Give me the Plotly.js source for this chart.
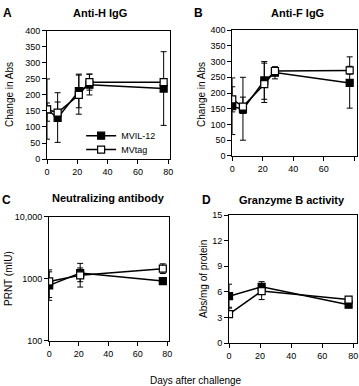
<!DOCTYPE html>
<html><head><meta charset="utf-8">
<script src="https://cdn.plot.ly/plotly-3.0.1.min.js"></script>
<style>html,body{margin:0;padding:0;background:#fff}#chart{width:359px;height:386px}</style>
</head><body><div id="chart"></div>
<script>
// Panel A: Anti-H IgG
const daysAB = [0, 7, 21, 28, 77];
const A_il12 = [155, 128, 212, 232, 220];
const A_il12_hi = [250, 207, 265, 265, 335];
const A_il12_lo = [62, 52, 160, 200, 105];
const A_tag = [155, 145, 200, 240, 240];
const A_tag_hi = [175, 178, 262, 265, 248];
const A_tag_lo = [118, 118, 140, 215, 232];
// Panel B: Anti-F IgG
const B_il12 = [158, 148, 240, 265, 232];
const B_il12_hi = [248, 250, 300, 283, 315];
const B_il12_lo = [68, 50, 180, 245, 152];
const B_tag = [180, 157, 228, 270, 272];
const B_tag_hi = [220, 187, 295, 283, 285];
const B_tag_lo = [140, 135, 170, 255, 260];
// Panel C: Neutralizing antibody
const daysCD = [0, 21, 77];
const C_il12 = [785, 1240, 922];
const C_il12_hi = [1300, 1780, 1000];
const C_il12_lo = [450, 900, 830];
const C_tag = [910, 1140, 1460];
const C_tag_hi = [1400, 1500, 1750];
const C_tag_lo = [500, 738, 1220];
// Panel D: Granzyme B activity
const D_il12 = [5.5, 6.6, 4.5];
const D_il12_hi = [6.9, 7.2, 4.8];
const D_il12_lo = [4.2, 6.0, 4.2];
const D_tag = [3.4, 6.1, 5.1];
const D_tag_hi = [4.1, 6.9, 5.4];
const D_tag_lo = [3.0, 5.1, 4.8];
const seriesNames = ['MVIL-12', 'MVtag'];
const logTicks = [100, 1000, 10000];
const logTickText = ['100', '1000', '10,000'];

function err(v, hi, lo) {
  return {type: 'data', symmetric: false,
    array: v.map((d, i) => hi[i] - d), arrayminus: v.map((d, i) => d - lo[i]),
    color: '#000', thickness: 1, width: 3};
}
function mk(filled) {
  return {symbol: 'square', size: 7, color: filled ? '#000' : '#fff', line: {color: '#000', width: 1.2}};
}
function tr(x, y, hi, lo, filled, xa, ya) {
  return {x: x, y: y, xaxis: xa, yaxis: ya, type: 'scatter', mode: 'lines+markers',
    name: filled ? seriesNames[0] : seriesNames[1], showlegend: false,
    line: {color: '#000', width: 1.5}, marker: mk(filled), error_y: err(y, hi, lo)};
}
function legTr(filled) {
  return {x: [null], y: [null], xaxis: 'x', yaxis: 'y', type: 'scatter', mode: 'lines+markers',
    name: filled ? seriesNames[0] : seriesNames[1], showlegend: true,
    legend: filled ? 'legend' : 'legend2',
    line: {color: '#000', width: 1.5}, marker: mk(filled)};
}
const data = [
  tr(daysAB, A_il12, A_il12_hi, A_il12_lo, true, 'x', 'y'),
  tr(daysAB, A_tag, A_tag_hi, A_tag_lo, false, 'x', 'y'),
  tr(daysAB, B_il12, B_il12_hi, B_il12_lo, true, 'x2', 'y2'),
  tr(daysAB, B_tag, B_tag_hi, B_tag_lo, false, 'x2', 'y2'),
  tr(daysCD, C_il12, C_il12_hi, C_il12_lo, true, 'x3', 'y3'),
  tr(daysCD, C_tag, C_tag_hi, C_tag_lo, false, 'x3', 'y3'),
  tr(daysCD, D_il12, D_il12_hi, D_il12_lo, true, 'x4', 'y4'),
  tr(daysCD, D_tag, D_tag_hi, D_tag_lo, false, 'x4', 'y4'),
  legTr(true), legTr(false)
];
const tickFont = {family: 'Liberation Sans, Arial, sans-serif', size: 9, color: '#000'};
function xax(dom, anchor, maxR) {
  return {domain: dom, anchor: anchor, range: [0, maxR], tickvals: [0, 20, 40, 60, 80],
    showgrid: false, zeroline: false, showline: true, linecolor: '#000', linewidth: 1, mirror: true,
    ticks: 'outside', ticklen: 4, tickcolor: '#000', tickfont: tickFont, fixedrange: true};
}
function yax(dom, anchor, extra) {
  return Object.assign({domain: dom, anchor: anchor, showgrid: false, zeroline: false,
    showline: true, linecolor: '#000', linewidth: 1, mirror: true,
    ticks: 'outside', ticklen: 4, tickcolor: '#000', tickfont: tickFont, fixedrange: true}, extra);
}
const titleFont = {family: 'Liberation Sans, Arial, sans-serif', size: 11, color: '#000', weight: 'bold'};
const letterFont = {family: 'Liberation Sans, Arial, sans-serif', size: 12, color: '#000', weight: 'bold'};
const axFont = {family: 'Liberation Sans, Arial, sans-serif', size: 10, color: '#000'};
const legFont = {family: 'Liberation Sans, Arial, sans-serif', size: 9, color: '#000'};
function ann(text, xpx, ypx, font, angle) {
  return {text: text, xref: 'paper', yref: 'paper', x: xpx / 359, y: 1 - ypx / 386,
    xanchor: 'center', yanchor: 'middle', showarrow: false, font: font, textangle: angle || 0};
}
const layout = {
  width: 359, height: 386, margin: {l: 0, r: 0, t: 0, b: 0},
  paper_bgcolor: '#fff', plot_bgcolor: '#fff', showlegend: true,
  xaxis: xax([0.131, 0.474], 'y', 81.3),
  yaxis: yax([0.588, 0.920], 'x', {range: [0, 400], dtick: 50}),
  xaxis2: xax([0.647, 0.994], 'y2', 81.7),
  yaxis2: yax([0.596, 0.922], 'x2', {range: [0, 400], dtick: 50}),
  xaxis3: xax([0.137, 0.470], 'y3', 81),
  yaxis3: yax([0.117, 0.438], 'x3', {type: 'log', range: [2, 4], tickvals: logTicks, ticktext: logTickText}),
  xaxis4: xax([0.638, 0.994], 'y4', 82.3),
  yaxis4: yax([0.111, 0.443], 'x4', {range: [0, 15], dtick: 3}),
  legend: {x: 0.226, y: 0.686, xanchor: 'left', yanchor: 'top', bgcolor: 'rgba(0,0,0,0)',
    font: legFont, tracegroupgap: 0},
  legend2: {x: 0.226, y: 0.650, xanchor: 'left', yanchor: 'top', bgcolor: 'rgba(0,0,0,0)',
    font: legFont, tracegroupgap: 0},
  annotations: [
    ann('A', 7, 13, letterFont), ann('B', 199, 13, letterFont),
    ann('C', 6, 200, letterFont), ann('D', 207, 200, letterFont),
    ann('Anti-H IgG', 100, 13, titleFont), ann('Anti-F IgG', 297, 13, titleFont),
    ann('Neutralizing antibody', 108, 198, titleFont), ann('Granzyme B activity', 292, 200, titleFont),
    ann('Change in Abs', 9, 95, axFont, -90), ann('Change in Abs', 201, 95, axFont, -90),
    ann('PRNT (mIU)', 8, 279, axFont, -90), ann('Abs/mg of protein', 203, 279, axFont, -90),
    ann('Days after challenge', 196, 380, axFont)
  ]
};
Plotly.newPlot('chart', data, layout, {staticPlot: true, displayModeBar: false});
</script></body></html>
